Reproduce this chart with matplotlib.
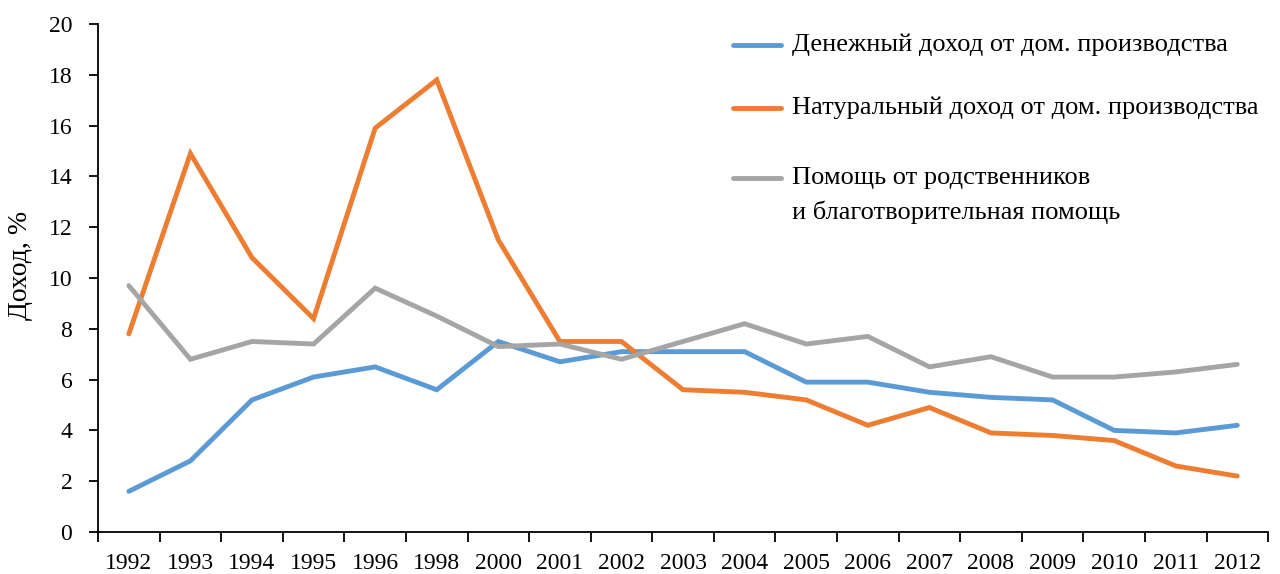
import matplotlib
matplotlib.use('Agg')
import matplotlib.pyplot as plt
import numpy as np

# данные
years = ["1992", "1993", "1994", "1995", "1996", "1998", "2000", "2001", "2002",
         "2003", "2004", "2005", "2006", "2007", "2008", "2009", "2010", "2011", "2012"]
cash = [1.6, 2.8, 5.2, 6.1, 6.5, 5.6, 7.5, 6.7, 7.1,
        7.1, 7.1, 5.9, 5.9, 5.5, 5.3, 5.2, 4.0, 3.9, 4.2]
natural = [7.8, 14.9, 10.8, 8.4, 15.9, 17.8, 11.5, 7.5, 7.5,
           5.6, 5.5, 5.2, 4.2, 4.9, 3.9, 3.8, 3.6, 2.6, 2.2]
help_ = [9.7, 6.8, 7.5, 7.4, 9.6, 8.5, 7.3, 7.4, 6.8,
         7.5, 8.2, 7.4, 7.7, 6.5, 6.9, 6.1, 6.1, 6.3, 6.6]

labels = ["Денежный доход от дом. производства",
          "Натуральный доход от дом. производства",
          "Помощь от родственников\nи благотворительная помощь"]
colors = ["#5B9BD5", "#ED7D31", "#A5A5A5"]

plt.rcParams["font.family"] = ["Liberation Serif", "DejaVu Serif"]
plt.rcParams["font.size"] = 17

fig = plt.figure(figsize=(12.8, 5.74), dpi=100)
ax = fig.add_axes([0.0766, 0.0732, 0.9141, 0.885])

x = np.arange(len(years))
for vals, lab, col in zip([cash, natural, help_], labels, colors):
    ax.plot(x, vals, color=col, linewidth=3.5, label=lab,
            solid_capstyle="round", solid_joinstyle="miter")

ax.set_xlim(-0.5, len(years) - 0.5)
ax.set_ylim(0, 20)
ax.set_yticks(range(0, 21, 2))
ax.set_xticks(x)
ax.set_xticklabels(years)
# засечки оси X — между категориями
ax.set_xticks(np.arange(-0.5, len(years), 1), minor=True)
ax.tick_params(axis="x", which="major", length=0, pad=15)
ax.tick_params(axis="x", which="minor", length=7, width=1.3, direction="out")
ax.tick_params(axis="y", length=6.5, width=1.3, direction="out", pad=12)

for s in ["top", "right"]:
    ax.spines[s].set_visible(False)
for s in ["left", "bottom"]:
    ax.spines[s].set_linewidth(1.3)

ax.set_ylabel("Доход, %", fontsize=20)
ax.yaxis.set_label_coords(-0.056, 0.524)

# легенда вручную: маркер у первой строки подписи
leg_y = [0.9587, 0.8346, 0.6969]
for col, lab, yy in zip(colors, labels, leg_y):
    ax.plot([0.5425, 0.5835], [yy, yy], transform=ax.transAxes, color=col,
            linewidth=3.5, solid_capstyle="round", clip_on=False)
    for i, line in enumerate(lab.split("\n")):
        ax.text(0.593, yy - i * 0.067, line, transform=ax.transAxes,
                fontsize=19, va="center", ha="left")

fig.savefig("out.png", dpi=100)
